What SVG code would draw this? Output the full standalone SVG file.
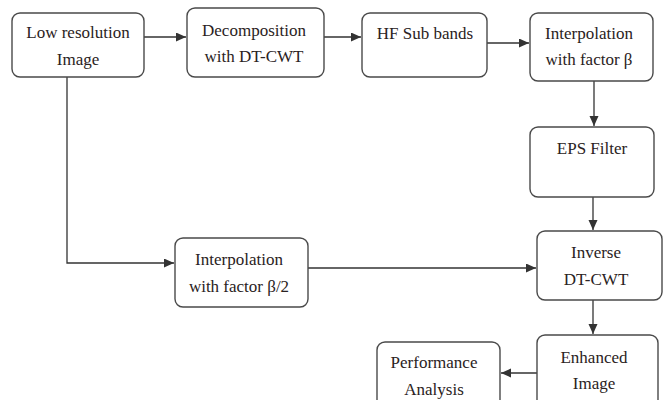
<svg xmlns="http://www.w3.org/2000/svg" width="665" height="400" viewBox="0 0 665 400">
<style>
.box{fill:#fff;stroke:#4a4a4a;stroke-width:1.4}
.t{font-family:"Liberation Serif",serif;font-size:17px;fill:#2a2222;text-anchor:middle}
.c{fill:none;stroke:#333;stroke-width:1.3}
</style>
<defs>
<marker id="ah" markerUnits="userSpaceOnUse" markerWidth="11" markerHeight="10" refX="10" refY="4.5" orient="auto">
<path d="M0,0 L10,4.5 L0,9 z" fill="#333"/>
</marker>
</defs>
<rect width="665" height="400" fill="#fff"/>
<g id="connectors">
<path class="c" d="M144,37 H186" marker-end="url(#ah)"/>
<path class="c" d="M324,37 H361" marker-end="url(#ah)"/>
<path class="c" d="M487,43 H529" marker-end="url(#ah)"/>
<path class="c" d="M594,81 V126" marker-end="url(#ah)"/>
<path class="c" d="M593,197 V230" marker-end="url(#ah)"/>
<path class="c" d="M67,77 V263 H174" marker-end="url(#ah)"/>
<path class="c" d="M308,268 H536" marker-end="url(#ah)"/>
<path class="c" d="M593,300 V334" marker-end="url(#ah)"/>
<path class="c" d="M537,373 H501" marker-end="url(#ah)"/>
</g>
<g font-family="Liberation Serif, serif">
<g id="low-res">
<rect class="box" x="12" y="13" width="132" height="64" rx="8"/>
<text class="t" x="78" y="38">Low resolution</text>
<text class="t" x="78" y="65">Image</text>
</g>
<g id="decomposition">
<rect class="box" x="187" y="8" width="137" height="69" rx="8"/>
<text class="t" x="254" y="36">Decomposition</text>
<text class="t" x="254" y="62">with DT-CWT</text>
</g>
<g id="hf-subbands">
<rect class="box" x="362" y="13" width="125" height="64" rx="8"/>
<text class="t" x="425" y="39">HF Sub bands</text>
</g>
<g id="interp-beta">
<rect class="box" x="530" y="13" width="123" height="68" rx="8"/>
<text class="t" x="589" y="39">Interpolation</text>
<text class="t" x="589" y="65">with factor β</text>
</g>
<g id="eps-filter">
<rect class="box" x="530" y="127" width="124" height="70" rx="8"/>
<text class="t" x="592" y="154">EPS Filter</text>
</g>
<g id="inverse">
<rect class="box" x="537" y="231" width="125" height="69" rx="8"/>
<text class="t" x="596" y="258">Inverse</text>
<text class="t" x="596" y="285">DT-CWT</text>
</g>
<g id="interp-beta2">
<rect class="box" x="175" y="238" width="133" height="69" rx="8"/>
<text class="t" x="239" y="265">Interpolation</text>
<text class="t" x="239" y="292">with factor β/2</text>
</g>
<g id="enhanced">
<rect class="box" x="537" y="335" width="121" height="75" rx="8"/>
<text class="t" x="594" y="363">Enhanced</text>
<text class="t" x="594" y="389">Image</text>
</g>
<g id="performance">
<rect class="box" x="377" y="342" width="123" height="70" rx="8"/>
<text class="t" x="434" y="368">Performance</text>
<text class="t" x="434" y="395">Analysis</text>
</g>
</g>
</svg>
